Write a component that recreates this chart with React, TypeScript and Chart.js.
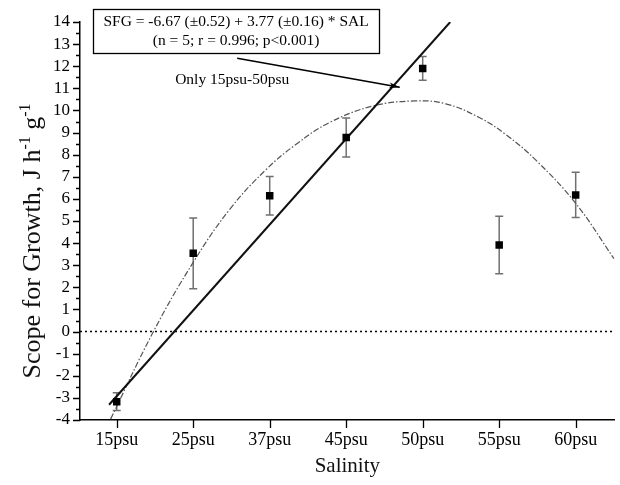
import React, { useEffect, useRef } from 'react';
import { Chart, registerables } from 'chart.js';

Chart.register(...registerables);

// ---- data ----
const categories = ['15psu', '25psu', '37psu', '45psu', '50psu', '55psu', '60psu'];
const sfgMeans = [-3.17, 3.54, 6.14, 8.78, 11.9, 3.91, 6.18];
const sfgErrors = [0.4, 1.6, 0.87, 0.88, 0.54, 1.3, 1.02];

const yTickValues = [-4, -3, -2, -1, 0, 1, 2, 3, 4, 5, 6, 7, 8, 9, 10, 11, 12, 13, 14];

// linear regression (15psu-50psu), endpoints as drawn
const regressionX = [-0.1, 4.36];
const regressionY = [-3.31, 14.0];

// dash-dot fitted curve
const curveX = [-0.08, 0.48, 1.0, 1.48, 1.96, 2.35, 2.78, 3.35, 3.9, 4.3, 4.74, 5.09, 5.48, 6.0, 6.5];
const curveY = [-3.96, 0, 3.13, 5.54, 7.35, 8.48, 9.45, 10.2, 10.43, 10.3, 9.68, 8.9, 7.75, 5.8, 3.3];

const zeroLineX = [-0.48, 6.51];
const zeroLineY = [0, 0];

const xRange = [-0.48, 6.51];
const yRange = [-4, 14];

const equationLines = ['SFG = -6.67 (\u00B10.52) + 3.77 (\u00B10.16) * SAL', '(n = 5; r = 0.996; p<0.001)'];
const noteText = 'Only 15psu-50psu';
const xTitle = 'Salinity';
const yTitleMain = 'Scope for Growth, J h';
const yTitleSup = '-1';
const yTitleMid = ' g';

// annotation anchors in data units
const boxX = [-0.31, 3.43];
const boxY = [14.58, 12.59];
const arrowX = [1.575, 3.7];
const arrowY = [12.36, 11.05];
const noteAt = [1.51, 11.4];

const SERIF = '"Liberation Serif", "Times New Roman", serif';

const decorPlugin = {
  id: 'decor',
  beforeDatasetsDraw(chart: any) {
    const { ctx, scales } = chart;
    const x = scales.x;
    const y = scales.y;
    ctx.save();
    ctx.strokeStyle = '#707070';
    ctx.lineWidth = 1.5;
    sfgMeans.forEach((m, i) => {
      const px = x.getPixelForValue(i);
      const t = y.getPixelForValue(m + sfgErrors[i]);
      const b = y.getPixelForValue(m - sfgErrors[i]);
      ctx.beginPath();
      ctx.moveTo(px, t);
      ctx.lineTo(px, b);
      ctx.moveTo(px - 4, t);
      ctx.lineTo(px + 4, t);
      ctx.moveTo(px - 4, b);
      ctx.lineTo(px + 4, b);
      ctx.stroke();
    });
    ctx.restore();
  },
  afterDraw(chart: any) {
    const { ctx, scales, chartArea } = chart;
    const x = scales.x;
    const y = scales.y;
    ctx.save();
    // tick marks
    ctx.strokeStyle = '#000';
    ctx.lineWidth = 1.3;
    ctx.beginPath();
    for (let v = yRange[0]; v <= yRange[1] + 1e-9; v += 0.5) {
      const py = Math.round(y.getPixelForValue(v)) + 0.5;
      const len = Number.isInteger(v) ? 7 : 4;
      ctx.moveTo(chartArea.left - len, py);
      ctx.lineTo(chartArea.left, py);
    }
    categories.forEach((_, i) => {
      const px = Math.round(x.getPixelForValue(i)) + 0.5;
      ctx.moveTo(px, chartArea.bottom);
      ctx.lineTo(px, chartArea.bottom + 8);
    });
    ctx.stroke();

    // equation box
    const bx0 = x.getPixelForValue(boxX[0]);
    const bx1 = x.getPixelForValue(boxX[1]);
    const by0 = y.getPixelForValue(boxY[0]);
    const by1 = y.getPixelForValue(boxY[1]);
    ctx.lineWidth = 1.3;
    ctx.fillStyle = '#fff';
    ctx.fillRect(bx0, by0, bx1 - bx0, by1 - by0);
    ctx.strokeRect(Math.round(bx0) + 0.5, Math.round(by0) + 0.5, Math.round(bx1 - bx0), Math.round(by1 - by0));
    ctx.fillStyle = '#000';
    ctx.font = `15.5px ${SERIF}`;
    ctx.textAlign = 'center';
    ctx.textBaseline = 'middle';
    const cx = (bx0 + bx1) / 2;
    const h = by1 - by0;
    ctx.fillText(equationLines[0], cx, by0 + h * 0.28);
    ctx.fillText(equationLines[1], cx, by0 + h * 0.72);

    // arrow
    const ax0 = x.getPixelForValue(arrowX[0]);
    const ay0 = y.getPixelForValue(arrowY[0]);
    const ax1 = x.getPixelForValue(arrowX[1]);
    const ay1 = y.getPixelForValue(arrowY[1]);
    ctx.lineWidth = 1.6;
    ctx.beginPath();
    ctx.moveTo(ax0, ay0);
    ctx.lineTo(ax1, ay1);
    ctx.stroke();
    const ang = Math.atan2(ay1 - ay0, ax1 - ax0);
    ctx.beginPath();
    ctx.moveTo(ax1, ay1);
    ctx.lineTo(ax1 - 11 * Math.cos(ang - 0.28), ay1 - 11 * Math.sin(ang - 0.28));
    ctx.lineTo(ax1 - 8 * Math.cos(ang), ay1 - 8 * Math.sin(ang));
    ctx.lineTo(ax1 - 11 * Math.cos(ang + 0.28), ay1 - 11 * Math.sin(ang + 0.28));
    ctx.closePath();
    ctx.fill();

    // note
    ctx.font = `15.5px ${SERIF}`;
    ctx.fillText(noteText, x.getPixelForValue(noteAt[0]), y.getPixelForValue(noteAt[1]));

    // y title with superscripts
    const mainFont = `26px ${SERIF}`;
    const supFont = `16px ${SERIF}`;
    ctx.font = mainFont;
    const w1 = ctx.measureText(yTitleMain).width;
    const w3 = ctx.measureText(yTitleMid).width;
    ctx.font = supFont;
    const w2 = ctx.measureText(yTitleSup).width;
    const total = w1 + w2 + w3 + w2;
    ctx.translate(32, 241);
    ctx.rotate(-Math.PI / 2);
    ctx.textAlign = 'left';
    ctx.textBaseline = 'alphabetic';
    let cur = -total / 2;
    const base = 8;
    ctx.fillStyle = '#111';
    ctx.font = mainFont;
    ctx.fillText(yTitleMain, cur, base);
    cur += w1;
    ctx.font = supFont;
    ctx.fillText(yTitleSup, cur, base - 10);
    cur += w2;
    ctx.font = mainFont;
    ctx.fillText(yTitleMid, cur, base);
    cur += w3;
    ctx.font = supFont;
    ctx.fillText(yTitleSup, cur, base - 10);
    ctx.restore();
  },
};

export default function App() {
  const canvasRef = useRef<HTMLCanvasElement | null>(null);

  useEffect(() => {
    document.body.style.margin = '0';
    const canvas = canvasRef.current;
    if (!canvas) return;
    const pts = (xs: number[], ys: number[]) => xs.map((v, i) => ({ x: v, y: ys[i] }));

    const chart = new Chart(canvas, {
      type: 'scatter',
      data: {
        datasets: [
          {
            label: 'SFG',
            data: categories.map((_, i) => ({ x: i, y: sfgMeans[i] })),
            showLine: false,
            pointStyle: 'rect',
            pointRadius: 5.3,
            backgroundColor: '#000',
            borderColor: '#000',
            borderWidth: 0,
            order: 0,
          },
          {
            label: 'regression',
            data: pts(regressionX, regressionY),
            showLine: true,
            borderColor: '#111',
            borderWidth: 2,
            pointRadius: 0,
            order: 1,
          },
          {
            label: 'curve',
            data: pts(curveX, curveY),
            showLine: true,
            borderColor: '#555',
            borderWidth: 1.2,
            borderDash: [6, 2, 1.5, 2],
            tension: 0.4,
            pointRadius: 0,
            order: 2,
          },
          {
            label: 'zero',
            data: pts(zeroLineX, zeroLineY),
            showLine: true,
            borderColor: '#000',
            borderWidth: 1.5,
            borderDash: [2, 3],
            pointRadius: 0,
            order: 3,
          },
        ],
      },
      options: {
        animation: false,
        responsive: true,
        maintainAspectRatio: false,
        layout: { padding: { top: 22, right: 4, left: 0, bottom: 0 } },
        plugins: {
          legend: { display: false },
          tooltip: { enabled: false },
        },
        scales: {
          x: {
            type: 'linear',
            min: xRange[0],
            max: xRange[1],
            afterBuildTicks: (s: any) => {
              s.ticks = categories.map((_, i) => ({ value: i }));
            },
            afterFit: (s: any) => {
              s.height = 65;
            },
            grid: { display: false, drawTicks: false },
            border: { display: true, color: '#000', width: 1.5 },
            ticks: {
              color: '#000',
              font: { family: SERIF, size: 18 },
              padding: 9,
              maxRotation: 0,
              autoSkip: false,
              callback: (v: any) => categories[Math.round(Number(v))] ?? '',
            },
            title: {
              display: true,
              text: xTitle,
              color: '#111',
              font: { family: SERIF, size: 21 },
              padding: { top: 0, bottom: 6 },
            },
          },
          y: {
            type: 'linear',
            min: yRange[0],
            max: yRange[1],
            afterBuildTicks: (s: any) => {
              s.ticks = yTickValues.map((v) => ({ value: v }));
            },
            afterFit: (s: any) => {
              s.width = 80;
            },
            grid: { display: false, drawTicks: false },
            border: { display: true, color: '#000', width: 1.5 },
            ticks: {
              color: '#000',
              font: { family: SERIF, size: 17 },
              padding: 10,
              autoSkip: false,
              callback: (v: any) => String(v),
            },
          },
        },
      },
      plugins: [decorPlugin],
    } as any);

    return () => chart.destroy();
  }, []);

  return (
    <div style={{ width: 620, height: 485, position: 'relative', background: '#fff' }}>
      <canvas ref={canvasRef} />
    </div>
  );
}
